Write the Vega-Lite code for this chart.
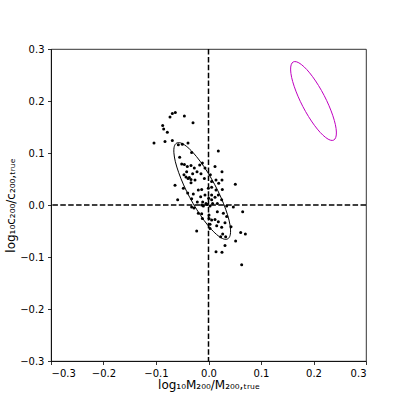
{
  "$schema": "https://vega.github.io/schema/vega-lite/v6.json",
  "autosize": {"type": "none"},
  "padding": {"left": 51, "top": 49, "right": 41, "bottom": 46},
  "width": 315,
  "height": 312,
  "background": "white",
  "config": {
    "view": {"stroke": "black", "strokeWidth": 0.8},
    "axis": {
      "grid": false,
      "domainColor": "black",
      "domainWidth": 0.8,
      "tickColor": "black",
      "tickWidth": 0.8,
      "tickSize": 3.5,
      "labelFont": "DejaVu Sans",
      "labelFontSize": 10,
      "labelColor": "black",
      "labelPadding": 3.5,
      "titleFont": "DejaVu Sans",
      "titleFontSize": 12,
      "titleFontWeight": "normal",
      "titleColor": "black"
    }
  },
  "datasets": {
    "pts": [
      {"x": -0.0632, "y": 0.178}, {"x": -0.0689, "y": 0.176}, {"x": -0.0733, "y": 0.169}, {"x": -0.046, "y": 0.171},
      {"x": -0.0295, "y": 0.158}, {"x": -0.0873, "y": 0.153}, {"x": -0.0854, "y": 0.146}, {"x": -0.0784, "y": 0.14},
      {"x": -0.1038, "y": 0.119}, {"x": -0.0829, "y": 0.122}, {"x": -0.0689, "y": 0.124}, {"x": -0.0575, "y": 0.116},
      {"x": -0.0498, "y": 0.117}, {"x": -0.039, "y": 0.119}, {"x": 0.0187, "y": 0.104}, {"x": -0.0321, "y": 0.101},
      {"x": -0.0549, "y": 0.092}, {"x": -0.0511, "y": 0.079}, {"x": -0.046, "y": 0.078}, {"x": -0.0403, "y": 0.074},
      {"x": -0.0333, "y": 0.076}, {"x": -0.027, "y": 0.071}, {"x": -0.0168, "y": 0.077}, {"x": -0.0117, "y": 0.081},
      {"x": -0.0067, "y": 0.071}, {"x": 0.0124, "y": 0.074}, {"x": 0.0257, "y": 0.064}, {"x": -0.0416, "y": 0.064},
      {"x": -0.0467, "y": 0.058}, {"x": -0.0429, "y": 0.054}, {"x": -0.039, "y": 0.051}, {"x": -0.0365, "y": 0.053},
      {"x": -0.0333, "y": 0.049}, {"x": -0.0302, "y": 0.06}, {"x": -0.0257, "y": 0.048}, {"x": -0.0219, "y": 0.064},
      {"x": -0.0143, "y": 0.06}, {"x": -0.0079, "y": 0.051}, {"x": 0.0035, "y": 0.058}, {"x": 0.006, "y": 0.045},
      {"x": 0.0143, "y": 0.048}, {"x": 0.0194, "y": 0.042}, {"x": 0.0257, "y": 0.048}, {"x": 0.0511, "y": 0.04},
      {"x": -0.0638, "y": 0.038}, {"x": -0.0479, "y": 0.032}, {"x": -0.0333, "y": 0.043}, {"x": -0.0194, "y": 0.029},
      {"x": -0.013, "y": 0.03}, {"x": -0.0003, "y": 0.032}, {"x": 0.006, "y": 0.034}, {"x": 0.0143, "y": 0.029},
      {"x": 0.0263, "y": 0.03}, {"x": -0.0397, "y": 0.023}, {"x": -0.0289, "y": 0.021}, {"x": -0.0149, "y": 0.016},
      {"x": -0.0067, "y": 0.019}, {"x": 0.0003, "y": 0.013}, {"x": 0.006, "y": 0.019}, {"x": 0.0124, "y": 0.015},
      {"x": 0.0187, "y": 0.019}, {"x": -0.0587, "y": 0.01}, {"x": -0.0321, "y": 0.012}, {"x": -0.0213, "y": 0.006},
      {"x": -0.0111, "y": 0.006}, {"x": -0.0048, "y": 0.003}, {"x": 0.006, "y": 0.01}, {"x": 0.0168, "y": 0.003},
      {"x": 0.0251, "y": 0.01}, {"x": -0.0321, "y": -0.004}, {"x": -0.0276, "y": -0.006}, {"x": -0.013, "y": 0.0},
      {"x": -0.0098, "y": -0.002}, {"x": -0.0022, "y": 0.001}, {"x": 0.0029, "y": -0.002}, {"x": 0.0079, "y": 0.003},
      {"x": 0.0346, "y": -0.002}, {"x": 0.0473, "y": -0.004}, {"x": 0.0651, "y": -0.013}, {"x": -0.0194, "y": -0.016},
      {"x": -0.013, "y": -0.017}, {"x": 0.001, "y": -0.019}, {"x": 0.0168, "y": -0.013}, {"x": 0.0283, "y": -0.016},
      {"x": 0.0346, "y": -0.022}, {"x": -0.0117, "y": -0.026}, {"x": 0.001, "y": -0.026}, {"x": 0.006, "y": -0.029},
      {"x": 0.0124, "y": -0.028}, {"x": 0.0187, "y": -0.032}, {"x": 0.0314, "y": -0.034}, {"x": 0.0029, "y": -0.037},
      {"x": 0.0156, "y": -0.04}, {"x": 0.0251, "y": -0.043}, {"x": 0.0429, "y": -0.042}, {"x": -0.0225, "y": -0.05},
      {"x": 0.0029, "y": -0.045}, {"x": 0.027, "y": -0.056}, {"x": 0.0232, "y": -0.061}, {"x": 0.0327, "y": -0.061},
      {"x": 0.0613, "y": -0.053}, {"x": 0.0702, "y": -0.056}, {"x": 0.0314, "y": -0.078}, {"x": 0.0517, "y": -0.069},
      {"x": 0.0143, "y": -0.09}, {"x": 0.0257, "y": -0.091}, {"x": 0.0632, "y": -0.115}
    ],
    "black_ell": [
      {"k": 0, "x": 0.0366, "y": -0.0651}, {"k": 1, "x": 0.0411, "y": -0.0587}, {"k": 2, "x": 0.0419, "y": -0.0464},
      {"k": 3, "x": 0.0391, "y": -0.0291}, {"k": 4, "x": 0.0327, "y": -0.0081}, {"k": 5, "x": 0.0234, "y": 0.0154},
      {"k": 6, "x": 0.0116, "y": 0.0397}, {"k": 7, "x": -0.0018, "y": 0.0631}, {"k": 8, "x": -0.0159, "y": 0.0841},
      {"k": 9, "x": -0.0297, "y": 0.1011}, {"k": 10, "x": -0.0423, "y": 0.1131}, {"k": 11, "x": -0.0528, "y": 0.1193},
      {"k": 12, "x": -0.0606, "y": 0.1191}, {"k": 13, "x": -0.0651, "y": 0.1127}, {"k": 14, "x": -0.0659, "y": 0.1004},
      {"k": 15, "x": -0.0631, "y": 0.0831}, {"k": 16, "x": -0.0567, "y": 0.0621}, {"k": 17, "x": -0.0474, "y": 0.0386},
      {"k": 18, "x": -0.0356, "y": 0.0143}, {"k": 19, "x": -0.0222, "y": -0.0091}, {"k": 20, "x": -0.0081, "y": -0.0301},
      {"k": 21, "x": 0.0057, "y": -0.0471}, {"k": 22, "x": 0.0183, "y": -0.0591}, {"k": 23, "x": 0.0288, "y": -0.0653}
    ],
    "mag_ell": [
      {"k": 0, "x": 0.2386, "y": 0.1249}, {"k": 1, "x": 0.2425, "y": 0.1302}, {"k": 2, "x": 0.2436, "y": 0.1403},
      {"k": 3, "x": 0.2417, "y": 0.1544}, {"k": 4, "x": 0.2369, "y": 0.1716}, {"k": 5, "x": 0.2296, "y": 0.1908},
      {"k": 6, "x": 0.2203, "y": 0.2106}, {"k": 7, "x": 0.2096, "y": 0.2297}, {"k": 8, "x": 0.1983, "y": 0.2467},
      {"k": 9, "x": 0.1871, "y": 0.2606}, {"k": 10, "x": 0.1767, "y": 0.2703}, {"k": 11, "x": 0.168, "y": 0.2753},
      {"k": 12, "x": 0.1614, "y": 0.2751}, {"k": 13, "x": 0.1575, "y": 0.2698}, {"k": 14, "x": 0.1564, "y": 0.2597},
      {"k": 15, "x": 0.1583, "y": 0.2456}, {"k": 16, "x": 0.1631, "y": 0.2284}, {"k": 17, "x": 0.1704, "y": 0.2092},
      {"k": 18, "x": 0.1797, "y": 0.1894}, {"k": 19, "x": 0.1904, "y": 0.1703}, {"k": 20, "x": 0.2017, "y": 0.1533},
      {"k": 21, "x": 0.2129, "y": 0.1394}, {"k": 22, "x": 0.2233, "y": 0.1297}, {"k": 23, "x": 0.232, "y": 0.1247}
    ]
  },
  "encoding": {
    "x": {
      "field": "x", "type": "quantitative",
      "scale": {"domain": [-0.3, 0.3], "nice": false, "zero": false},
      "axis": {
        "values": [-0.3, -0.2, -0.1, 0, 0.1, 0.2, 0.3],
        "format": ".1f",
        "labelExpr": "replace(datum.label, '-', '\u2212')",
        "title": "log\u2081\u2080M\u2082\u2080\u2080/M\u2082\u2080\u2080,\u209c\u1d63\u1d64\u2091",
        "titlePadding": 1
      }
    },
    "y": {
      "field": "y", "type": "quantitative",
      "scale": {"domain": [-0.3, 0.3], "nice": false, "zero": false},
      "axis": {
        "values": [-0.3, -0.2, -0.1, 0, 0.1, 0.2, 0.3],
        "format": ".1f",
        "labelExpr": "replace(datum.label, '-', '\u2212')",
        "title": "log\u2081\u2080c\u2082\u2080\u2080/c\u2082\u2080\u2080,\u209c\u1d63\u1d64\u2091",
        "titlePadding": 2
      }
    }
  },
  "layer": [
    {
      "data": {"values": [{"x": 0}]},
      "mark": {"type": "rule", "color": "black", "strokeWidth": 1.5, "strokeDash": [5.5, 2.4]},
      "encoding": {"y": null}
    },
    {
      "data": {"values": [{"y": 0}]},
      "mark": {"type": "rule", "color": "black", "strokeWidth": 1.5, "strokeDash": [5.5, 2.4]},
      "encoding": {"x": null}
    },
    {
      "data": {"name": "pts"},
      "mark": {"type": "circle", "color": "black", "size": 9, "opacity": 1}
    },
    {
      "data": {"name": "black_ell"},
      "mark": {"type": "line", "color": "black", "strokeWidth": 1, "interpolate": "cardinal-closed"},
      "encoding": {"order": {"field": "k", "type": "quantitative"}}
    },
    {
      "data": {"name": "mag_ell"},
      "mark": {"type": "line", "color": "#c000c0", "strokeWidth": 1, "interpolate": "cardinal-closed"},
      "encoding": {"order": {"field": "k", "type": "quantitative"}}
    }
  ]
}
